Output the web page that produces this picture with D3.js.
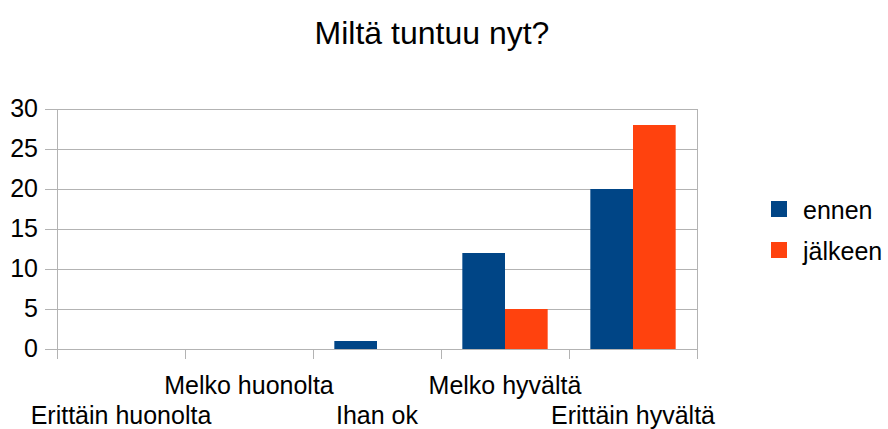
<!DOCTYPE html>
<html>
<head>
<meta charset="utf-8">
<script src="https://cdn.jsdelivr.net/npm/d3@7"></script>
<style>
  body { margin: 0; background: #fff; }
  text { font-family: "Liberation Sans", Arial, sans-serif; fill: #000; }
</style>
</head>
<body>
<div id="chart"></div>
<script>
const categories = ["Erittäin huonolta", "Melko huonolta", "Ihan ok", "Melko hyvältä", "Erittäin hyvältä"];
const seriesNames = ["ennen", "jälkeen"];
const ennen = [0, 0, 1, 12, 20];
const jalkeen = [0, 0, 0, 5, 28];
const yTicks = [0, 5, 10, 15, 20, 25, 30];
const colors = ["#004586", "#ff420e"];

const width = 888, height = 429;
const margin = { left: 57, right: 191, top: 109, bottom: 80 };

const svg = d3.select("#chart").append("svg")
  .attr("width", width)
  .attr("height", height);

// title
svg.append("text")
  .attr("x", 432)
  .attr("y", 44)
  .attr("text-anchor", "middle")
  .style("font-size", "32px")
  .text("Miltä tuntuu nyt?");

const x = d3.scaleBand()
  .domain(categories)
  .range([margin.left, width - margin.right]);

const x1 = d3.scaleBand()
  .domain(seriesNames)
  .range([0, x.bandwidth()])
  .paddingOuter(0.5);

const y = d3.scaleLinear()
  .domain([0, 30])
  .range([height - margin.bottom, margin.top]);

// gridlines
svg.append("g")
  .selectAll("line")
  .data(yTicks)
  .join("line")
  .attr("x1", margin.left - 12)
  .attr("x2", width - margin.right)
  .attr("y1", d => y(d) + 0.5)
  .attr("y2", d => y(d) + 0.5)
  .attr("stroke", "#b3b3b3");

// right border
svg.append("line")
  .attr("x1", width - margin.right + 0.5)
  .attr("x2", width - margin.right + 0.5)
  .attr("y1", y(30))
  .attr("y2", y(0) + 10)
  .attr("stroke", "#b3b3b3");

// y tick labels
svg.append("g")
  .selectAll("text")
  .data(yTicks)
  .join("text")
  .attr("x", 38)
  .attr("y", d => y(d) + 8)
  .attr("text-anchor", "end")
  .style("font-size", "25px")
  .text(d => d);

// bars
const data = categories.map((c, i) => ({ cat: c, values: [ennen[i], jalkeen[i]] }));
const groups = svg.append("g")
  .selectAll("g")
  .data(data)
  .join("g")
  .attr("transform", d => `translate(${x(d.cat)},0)`);

groups.selectAll("rect")
  .data(d => d.values.map((v, j) => ({ name: seriesNames[j], v: v, j: j })))
  .join("rect")
  .attr("x", d => x1(d.name))
  .attr("width", x1.bandwidth())
  .attr("y", d => y(d.v))
  .attr("height", d => y(0) - y(d.v))
  .attr("fill", d => colors[d.j]);

// y axis line
svg.append("line")
  .attr("x1", margin.left + 0.5)
  .attr("x2", margin.left + 0.5)
  .attr("y1", y(30))
  .attr("y2", y(0) + 10)
  .attr("stroke", "#b3b3b3");

// x axis line and ticks between categories
svg.append("line")
  .attr("x1", margin.left)
  .attr("x2", width - margin.right)
  .attr("y1", y(0) + 0.5)
  .attr("y2", y(0) + 0.5)
  .attr("stroke", "#b3b3b3");

svg.append("g")
  .selectAll("line")
  .data(categories.slice(1))
  .join("line")
  .attr("x1", d => x(d) + 0.5)
  .attr("x2", d => x(d) + 0.5)
  .attr("y1", y(0))
  .attr("y2", y(0) + 10)
  .attr("stroke", "#b3b3b3");

// x labels, staggered
svg.append("g")
  .selectAll("text")
  .data(categories)
  .join("text")
  .attr("x", d => x(d) + x.bandwidth() / 2)
  .attr("y", (d, i) => i % 2 === 1 ? 394 : 424)
  .attr("text-anchor", "middle")
  .style("font-size", "25px")
  .text(d => d);

// legend
const legend = svg.append("g")
  .selectAll("g")
  .data(seriesNames)
  .join("g")
  .attr("transform", (d, i) => `translate(771,${201 + i * 41})`);

legend.append("rect")
  .attr("width", 16)
  .attr("height", 16)
  .attr("fill", (d, i) => colors[i]);

legend.append("text")
  .attr("x", 32)
  .attr("y", 18)
  .style("font-size", "25px")
  .text(d => d);
</script>
</body>
</html>
